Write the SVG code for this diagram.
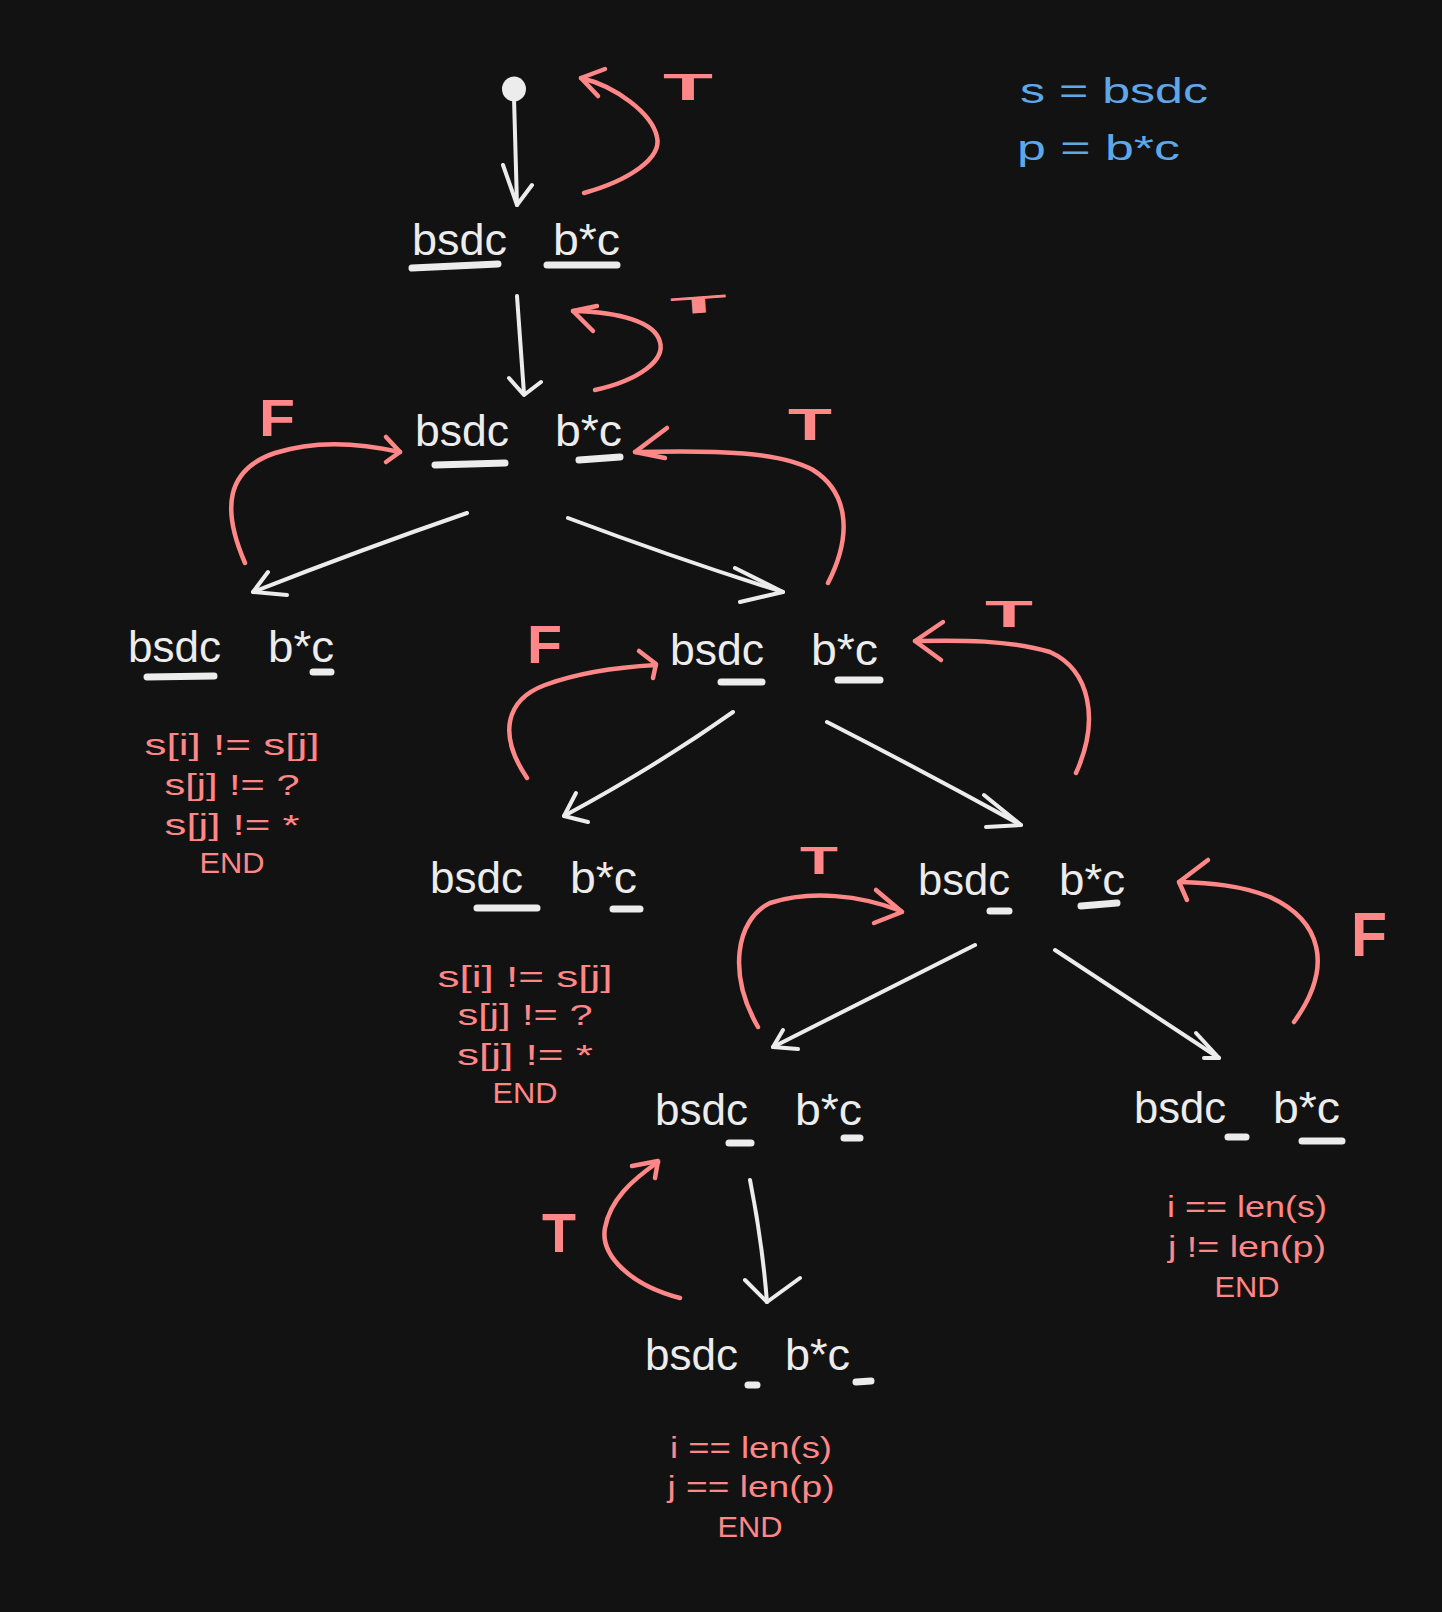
<svg xmlns="http://www.w3.org/2000/svg" width="1442" height="1612" viewBox="0 0 1442 1612">
<style>
.bg{fill:#121212}
.nt{font-family:"Liberation Sans",Arial,sans-serif;font-size:44px;fill:#ececec}
.ul{stroke:#ececec;stroke-width:7;stroke-linecap:round;fill:none}
.rt{font-family:"Liberation Sans",Arial,sans-serif;font-size:30px;fill:#ff8787;text-anchor:middle}
.lb{font-family:"Liberation Sans",Arial,sans-serif;font-weight:bold;fill:#ff8787}
.bl{font-family:"Liberation Sans",Arial,sans-serif;font-size:35px;fill:#5ea8e8}
.wa{stroke:#ececec;stroke-width:4;stroke-linecap:round;stroke-linejoin:round;fill:none}
.ra{stroke:#ff8787;stroke-width:4.5;stroke-linecap:round;stroke-linejoin:round;fill:none}
</style>
<rect class="bg" x="0" y="0" width="1442" height="1612"/>

<g id="legend">
<text class="bl" x="1020" y="103" textLength="188" lengthAdjust="spacingAndGlyphs">s = bsdc</text>
<text class="bl" x="1017" y="160" textLength="163" lengthAdjust="spacingAndGlyphs">p = b*c</text>
</g>

<g id="start">
<ellipse cx="514" cy="89" rx="12" ry="12.5" fill="#ececec"/>
</g>

<g id="connectors">
<path class="wa" d="M514,98 L517,205"/>
<path class="wa" d="M503,165 L517,205 L532,185"/>
<path class="wa" d="M517,296 L524,394"/>
<path class="wa" d="M509,378 L524,395 L541,382"/>
<path class="wa" d="M467,513 Q360,550 253,592"/>
<path class="wa" d="M268,572 L253,592 L287,595"/>
<path class="wa" d="M568,518 Q680,560 783,592"/>
<path class="wa" d="M735,568 L783,592 L740,602"/>
<path class="wa" d="M733,712 Q655,767 564,816"/>
<path class="wa" d="M576,793 L564,816 L588,822"/>
<path class="wa" d="M827,722 Q921,770 1021,825"/>
<path class="wa" d="M984,795 L1021,825 L986,827"/>
<path class="wa" d="M975,945 L773,1047"/>
<path class="wa" d="M783,1030 L773,1047 L798,1049"/>
<path class="wa" d="M1055,950 L1219,1058"/>
<path class="wa" d="M1196,1033 L1219,1058 L1204,1058"/>
<path class="wa" d="M750,1180 Q762,1240 767,1302"/>
<path class="wa" d="M745,1280 L767,1302 L800,1278"/>
<path class="ra" d="M584,193 C630,180 662,158 657,137 C652,113 615,86 581,78"/>
<path class="ra" d="M605,69 L581,78 L598,96"/>
<path class="ra" d="M595,390 C640,380 665,360 660,342 C655,322 620,312 573,311"/>
<path class="ra" d="M597,306 L573,311 L593,331"/>
<path class="ra" d="M245,563 C222,510 225,470 275,453 C315,440 360,443 400,452"/>
<path class="ra" d="M386,437 L400,452 L386,462"/>
<path class="ra" d="M828,583 C855,530 845,490 813,470 C780,452 720,450 635,452"/>
<path class="ra" d="M667,428 L635,452 L665,458"/>
<path class="ra" d="M527,778 C498,735 505,700 545,685 C580,672 620,667 656,665"/>
<path class="ra" d="M639,651 L656,664 L653,678"/>
<path class="ra" d="M1076,773 C1100,720 1090,670 1050,652 C1010,640 960,640 915,641"/>
<path class="ra" d="M943,622 L915,641 L941,660"/>
<path class="ra" d="M758,1027 C728,975 735,920 770,903 C810,890 860,895 901,911"/>
<path class="ra" d="M876,890 L902,912 L874,923"/>
<path class="ra" d="M1294,1022 C1335,965 1320,920 1270,897 C1240,885 1210,883 1179,882"/>
<path class="ra" d="M1208,860 L1179,882 L1187,900"/>
<path class="ra" d="M680,1298 C630,1285 600,1255 605,1228 C610,1200 632,1180 658,1162"/>
<path class="ra" d="M632,1166 L658,1161 L655,1178"/>
</g>

<g id="labels">
<text class="lb" x="663" y="100" font-size="36" textLength="50" lengthAdjust="spacingAndGlyphs">T</text>
<text class="lb" x="670" y="313" font-size="24" textLength="57" lengthAdjust="spacingAndGlyphs" transform="rotate(-4 698 305)">T</text>
<text class="lb" x="259" y="436" font-size="52" textLength="36" lengthAdjust="spacingAndGlyphs">F</text>
<text class="lb" x="788" y="440" font-size="45" textLength="44" lengthAdjust="spacingAndGlyphs">T</text>
<text class="lb" x="527" y="663" font-size="54" textLength="35" lengthAdjust="spacingAndGlyphs">F</text>
<text class="lb" x="985" y="627" font-size="37" textLength="48" lengthAdjust="spacingAndGlyphs">T</text>
<text class="lb" x="800" y="874" font-size="39" textLength="38" lengthAdjust="spacingAndGlyphs">T</text>
<text class="lb" x="1351" y="956" font-size="63" textLength="36" lengthAdjust="spacingAndGlyphs">F</text>
<text class="lb" x="542" y="1252" font-size="56" textLength="34" lengthAdjust="spacingAndGlyphs">T</text>
</g>

<g id="node1">
<text class="nt" x="412" y="255" textLength="95" lengthAdjust="spacingAndGlyphs">bsdc</text>
<text class="nt" x="553" y="255" textLength="67" lengthAdjust="spacingAndGlyphs">b*c</text>
<path class="ul" d="M412,268 L498,264"/>
<path class="ul" d="M547,265 L617,265"/>
</g>

<g id="node2">
<text class="nt" x="415" y="446" textLength="94" lengthAdjust="spacingAndGlyphs">bsdc</text>
<text class="nt" x="555" y="446" textLength="67" lengthAdjust="spacingAndGlyphs">b*c</text>
<path class="ul" d="M435,465 L505,463"/>
<path class="ul" d="M579,460 L620,457"/>
</g>

<g id="node3">
<text class="nt" x="128" y="662" textLength="93" lengthAdjust="spacingAndGlyphs">bsdc</text>
<text class="nt" x="268" y="662" textLength="66" lengthAdjust="spacingAndGlyphs">b*c</text>
<path class="ul" d="M147,677 L214,676"/>
<path class="ul" d="M313,672 L331,672"/>
<text class="rt" x="232" y="755" textLength="175" lengthAdjust="spacingAndGlyphs">s[i] != s[j]</text>
<text class="rt" x="232" y="795" textLength="135" lengthAdjust="spacingAndGlyphs">s[j] != ?</text>
<text class="rt" x="232" y="835" textLength="135" lengthAdjust="spacingAndGlyphs">s[j] != *</text>
<text class="rt" x="232" y="873" textLength="65" lengthAdjust="spacingAndGlyphs">END</text>
</g>

<g id="node4">
<text class="nt" x="670" y="665" textLength="94" lengthAdjust="spacingAndGlyphs">bsdc</text>
<text class="nt" x="811" y="665" textLength="67" lengthAdjust="spacingAndGlyphs">b*c</text>
<path class="ul" d="M721,682 L762,682"/>
<path class="ul" d="M838,680 L880,680"/>
</g>

<g id="node5">
<text class="nt" x="430" y="893" textLength="93" lengthAdjust="spacingAndGlyphs">bsdc</text>
<text class="nt" x="570" y="893" textLength="67" lengthAdjust="spacingAndGlyphs">b*c</text>
<path class="ul" d="M477,908 L537,908"/>
<path class="ul" d="M613,909 L640,909"/>
<text class="rt" x="525" y="987" textLength="175" lengthAdjust="spacingAndGlyphs">s[i] != s[j]</text>
<text class="rt" x="525" y="1025" textLength="135" lengthAdjust="spacingAndGlyphs">s[j] != ?</text>
<text class="rt" x="525" y="1065" textLength="136" lengthAdjust="spacingAndGlyphs">s[j] != *</text>
<text class="rt" x="525" y="1103" textLength="65" lengthAdjust="spacingAndGlyphs">END</text>
</g>

<g id="node6">
<text class="nt" x="918" y="895" textLength="92" lengthAdjust="spacingAndGlyphs">bsdc</text>
<text class="nt" x="1059" y="895" textLength="66" lengthAdjust="spacingAndGlyphs">b*c</text>
<path class="ul" d="M990,911 L1009,911"/>
<path class="ul" d="M1081,906 L1117,903"/>
</g>

<g id="node7">
<text class="nt" x="655" y="1125" textLength="93" lengthAdjust="spacingAndGlyphs">bsdc</text>
<text class="nt" x="795" y="1125" textLength="67" lengthAdjust="spacingAndGlyphs">b*c</text>
<path class="ul" d="M729,1143 L751,1143"/>
<path class="ul" d="M844,1138 L860,1138"/>
</g>

<g id="node8">
<text class="nt" x="645" y="1370" textLength="93" lengthAdjust="spacingAndGlyphs">bsdc</text>
<text class="nt" x="785" y="1370" textLength="65" lengthAdjust="spacingAndGlyphs">b*c</text>
<path class="ul" d="M748,1385 L757,1385"/>
<path class="ul" d="M856,1382 L871,1381"/>
<text class="rt" x="751" y="1458" textLength="162" lengthAdjust="spacingAndGlyphs">i == len(s)</text>
<text class="rt" x="751" y="1497" textLength="167" lengthAdjust="spacingAndGlyphs">j == len(p)</text>
<text class="rt" x="750" y="1537" textLength="65" lengthAdjust="spacingAndGlyphs">END</text>
</g>

<g id="node9">
<text class="nt" x="1134" y="1123" textLength="92" lengthAdjust="spacingAndGlyphs">bsdc</text>
<text class="nt" x="1273" y="1123" textLength="67" lengthAdjust="spacingAndGlyphs">b*c</text>
<path class="ul" d="M1228,1137 L1246,1137"/>
<path class="ul" d="M1302,1141 L1342,1141"/>
<text class="rt" x="1247" y="1217" textLength="160" lengthAdjust="spacingAndGlyphs">i == len(s)</text>
<text class="rt" x="1247" y="1257" textLength="158" lengthAdjust="spacingAndGlyphs">j != len(p)</text>
<text class="rt" x="1247" y="1297" textLength="65" lengthAdjust="spacingAndGlyphs">END</text>
</g>
</svg>
